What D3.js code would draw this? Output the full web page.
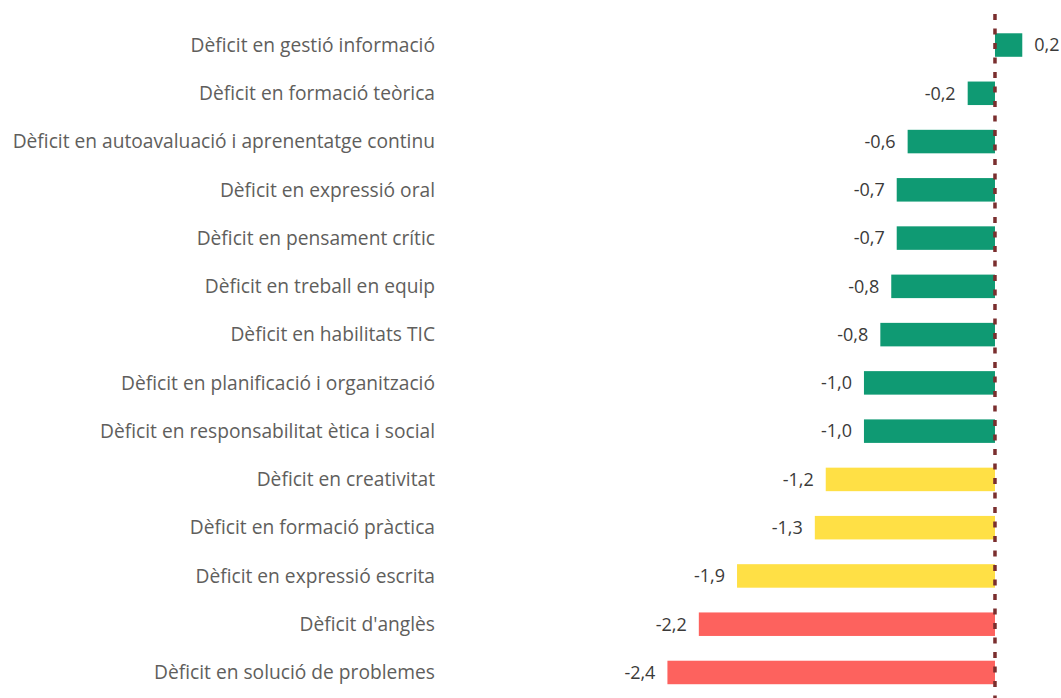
<!DOCTYPE html>
<html>
<head>
<meta charset="utf-8">
<script src="https://cdn.jsdelivr.net/npm/d3@7"></script>
<style>
    html, body { margin: 0; padding: 0; background: #fff; }
    .cat { font-family: "Open Sans", sans-serif; font-size: 19.2px; fill: #605e5c; }
    .val { font-family: "Open Sans", sans-serif; font-size: 18px; fill: #3b3a39; }
</style>
</head>
<body>
<div id="chart"></div>
<script>
var categories = [
    "Dèficit en gestió informació",
    "Dèficit en formació teòrica",
    "Dèficit en autoavaluació i aprenentatge continu",
    "Dèficit en expressió oral",
    "Dèficit en pensament crític",
    "Dèficit en treball en equip",
    "Dèficit en habilitats TIC",
    "Dèficit en planificació i organització",
    "Dèficit en responsabilitat ètica i social",
    "Dèficit en creativitat",
    "Dèficit en formació pràctica",
    "Dèficit en expressió escrita",
    "Dèficit d'anglès",
    "Dèficit en solució de problemes"
];
var values = [0.20, -0.20, -0.64, -0.72, -0.72, -0.76, -0.84, -0.96, -0.96, -1.24, -1.32, -1.89, -2.17, -2.40];
var thresholds = [-2, -1];
var levelColors = ["#fd625e", "#ffe045", "#0f9a73"];

var width = 1061,
    height = 698;

var data = categories.map(function(c, i){ return {name: c, value: values[i]}; });

/* SVG */
var svg = d3.select("#chart")
    .append("svg")
        .attr("width", width)
        .attr("height", height);

/* Scales */
var x = d3.scaleLinear()
    .domain([-2.45, 0.25])
    .range([660.6, 1029.1]);
var y = d3.scaleBand()
    .domain(categories)
    .range([20.9, 696.6])
    .paddingInner(0.513)
    .paddingOuter(0.2565);
var color = d3.scaleThreshold()
    .domain(thresholds)
    .range(levelColors);

var fmt = d3.formatLocale({decimal: ",", thousands: ".", grouping: [3], currency: ["", "€"], minus: "-"}).format(".1f");

/* Category axis */
var yAxis = d3.axisLeft(y).tickSize(0).tickPadding(0);
svg.append("g")
    .attr("class", "yAxis")
    .attr("transform", "translate(435,0)")
    .call(yAxis)
    .call(function(g){ g.select(".domain").remove(); })
    .selectAll("text")
        .attr("class", "cat")
        .attr("fill", null)
        .attr("dy", "0.35em");
svg.select(".yAxis").attr("font-family", null).attr("font-size", null);

/* Bars */
svg.selectAll(".bar")
    .data(data)
    .enter()
    .append("rect")
        .attr("class", "bar")
        .attr("x", function(d){ return x(Math.min(0, d.value)); })
        .attr("y", function(d){ return y(d.name); })
        .attr("width", function(d){ return Math.abs(x(d.value) - x(0)); })
        .attr("height", y.bandwidth())
        .attr("fill", function(d){ return color(d.value); });

/* Value labels */
svg.selectAll(".val")
    .data(data)
    .enter()
    .append("text")
        .attr("class", "val")
        .attr("x", function(d){ return d.value < 0 ? x(d.value) - 12 : x(d.value) + 12; })
        .attr("y", function(d){ return y(d.name) + y.bandwidth() / 2; })
        .attr("dy", "0.35em")
        .attr("text-anchor", function(d){ return d.value < 0 ? "end" : "start"; })
        .text(function(d){ return fmt(d.value); });

/* Zero reference line */
svg.append("line")
    .attr("x1", x(0))
    .attr("x2", x(0))
    .attr("y1", 14)
    .attr("y2", height)
    .attr("stroke", "#7a2e2e")
    .attr("stroke-width", 3.5)
    .attr("stroke-dasharray", "6,8.5");
</script>
</body>
</html>
